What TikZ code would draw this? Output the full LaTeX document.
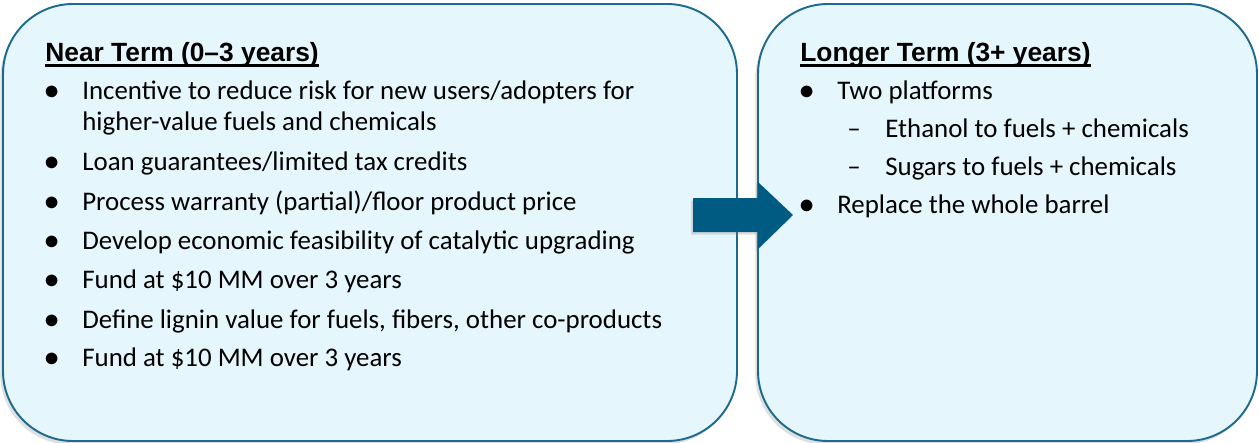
\documentclass[tikz,border=0pt]{standalone}
\usepackage{fontspec}
\setmainfont{Carlito}
\newfontfamily\headfont{Liberation Sans}
\usepackage{tikz}
\usetikzlibrary{positioning,shadows}
\definecolor{boxfill}{HTML}{E6F6FD}
\definecolor{boxline}{HTML}{1C6A8E}
\definecolor{arrowblue}{HTML}{005B82}
\tikzset{%
	termbox/.style={
		draw=boxline,
		fill=boxfill,
		line width=1.1pt,
		rounded corners=1.4cm,
		drop shadow={shadow xshift=-1.5pt, shadow yshift=-2pt, opacity=0.25}
	},
	heading/.style={
		anchor=base west,
		inner sep=0pt,
		font=\headfont\bfseries\fontsize{15}{18}\selectfont
	},
	headline/.style={ line width=1.3pt },
	item/.style={
		anchor=base west,
		inner sep=0pt,
		font=\fontsize{15.3}{18}\selectfont
	},
	dot/.style={
		anchor=base west,
		inner sep=0pt,
		font=\fontsize{19}{19}\selectfont
	},
}

\begin{document}
\begin{tikzpicture}[x=0.02cm, y=-0.02cm]
\useasboundingbox (0,0) rectangle (1259,443);

% boxes
\draw[termbox] (3,4) rectangle (737,441);
\draw[termbox] (758,4) rectangle (1257,441);

% arrow
\fill[arrowblue, drop shadow={shadow xshift=-1pt, shadow yshift=-1.5pt, opacity=0.25}]
	(693,198) -- (758,198) -- (758,182) -- (793,215) -- (758,249) -- (758,232) -- (693,232) -- cycle;

% headings
\node[heading] (near-head) at (45,61) {Near Term (0\textendash3 years)};
\node[heading] (long-head) at (800,61) {Longer Term (3+ years)};
\foreach \h in {near-head, long-head}
	\draw[headline] ([yshift=-2.6pt]\h.base west) -- ([yshift=-2.6pt]\h.base east);

% near term bullets
\foreach \y/\t [count=\i] in {99/{Incentive to reduce risk for new users/adopters for},
		170/{Loan guarantees/limited tax credits},
		210/{Process warranty (partial)/floor product price},
		249/{Develop economic feasibility of catalytic upgrading},
		288/{Fund at \$10 MM over 3 years},
		328/{Define lignin value for fuels, fibers, other co-products},
		366/{Fund at \$10 MM over 3 years}}
{
	\node[dot] (near-dot-\i) at (44,\y) {$\bullet$};
	\node[item] (near-\i) at (82,\y) {\t};
}
\node[item] (near-1b) at (82,130) {higher-value fuels and chemicals};

% longer term bullets
\foreach \y/\t [count=\i] in {99/{Two platforms}, 213/{Replace the whole barrel}}
{
	\node[dot] (long-dot-\i) at (799,\y) {$\bullet$};
	\node[item] (long-\i) at (837,\y) {\t};
}
\foreach \y/\t [count=\i] in {137/{Ethanol to fuels + chemicals}, 175/{Sugars to fuels + chemicals}}
{
	\node[item] (sub-dash-\i) at (847,\y) {\textendash};
	\node[item] (sub-\i) at (885,\y) {\t};
}

\end{tikzpicture}
\end{document}
